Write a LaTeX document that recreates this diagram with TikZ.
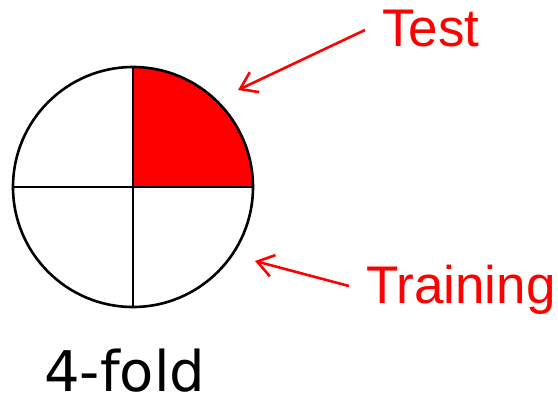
\documentclass[tikz,border=0pt]{standalone}
\usepackage{fontspec}
\setmainfont{Liberation Sans}
\newfontfamily\foldfont{DejaVu Sans}
\usetikzlibrary{arrows.meta}
\definecolor{pptred}{RGB}{255,0,0}
\tikzset{
  pieline/.style={line width=2.6pt, black},
  redarrow/.style={line width=2.6pt, pptred, -{Straight Barb[length=16pt,width=22pt,line width=2.6pt]}},
  redlabel/.style={text=pptred, inner sep=0pt, anchor=base west, font=\fontsize{53}{60}\selectfont},
}
\begin{document}
\begin{tikzpicture}[x=1pt,y=-1pt]
\useasboundingbox (0,0) rectangle (558,400);
\coordinate (c) at (133,187);
% red test quadrant
\fill[pptred] (c) -- (253,187) arc[start angle=0,end angle=90,radius=120pt] -- cycle;
\draw[pieline] (c) circle[radius=120pt];
\coordinate (top) at (133,67);
\coordinate (bot) at (133,307);
\coordinate (lft) at (13,187);
\coordinate (rgt) at (253,187);
\draw[pieline] (top) -- (bot);
\draw[pieline] (lft) -- (rgt);
% labels
\node[redlabel] (test) at (382,46) {Test};
\node[redlabel] (train) at (366,303) {Training};
\node[inner sep=0pt, anchor=base west, text depth=0pt, font=\foldfont\fontsize{56}{60}\selectfont] (fold) at (44,391) {4-fold};
% arrows
\coordinate (testtail) at (365,30);
\coordinate (testtip) at (238,90);
\coordinate (traintail) at (349,286);
\coordinate (traintip) at (255,261);
\draw[redarrow] (testtail) -- (testtip);
\draw[redarrow] (traintail) -- (traintip);
\end{tikzpicture}
\end{document}
